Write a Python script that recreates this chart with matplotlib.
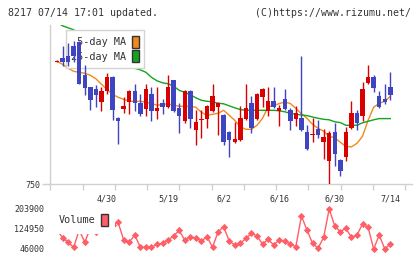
import numpy as np
import matplotlib
matplotlib.use("Agg")
import matplotlib.pyplot as plt
from matplotlib.patches import Patch

# daily candles (yen)
opens = [811, 813, 814, 819, 821, 804.5, 798.5, 797.5, 791, 796.5, 803.5, 783, 787.5, 791, 796.5,
         790.5, 787.5, 795, 786.5, 790.5, 788.5, 802, 788, 781.5, 796.5, 777, 782, 782.5, 786.5, 788.5,
         784.5, 776, 771, 772, 782.5, 790.5, 782.5, 793.5, 786.5, 791.5, 786.5, 792.5, 787, 782.5, 783,
         776, 774.5, 777.5, 771, 761.5, 776, 762, 763.5, 778, 785.5, 784, 800.5, 803.5, 794, 792.5, 798.5]
highs = [812, 819, 820.5, 821.5, 821.5, 809.5, 798.5, 799.5, 798.5, 805.5, 804, 783.5, 793.5, 797, 800,
         795, 800, 798.5, 798.5, 792.5, 804.5, 802, 790.5, 797, 797, 787, 787, 789.5, 800, 791,
         785, 776.5, 781, 789, 800, 794, 795.5, 798, 798.5, 798.5, 789.5, 797.5, 788, 789, 814,
         779.5, 783, 782, 777.5, 776.5, 780.5, 762.5, 778.5, 791.5, 787, 801, 809.5, 804.5, 796.5, 800, 806]
lows = [811, 809, 809, 811, 800, 794.5, 787, 788.5, 786.5, 795, 782, 770, 785.5, 785, 786.5,
        784, 784, 781.5, 782.5, 785, 788, 786, 775.5, 780.5, 778, 769.5, 773, 778, 786, 774.5,
        769.5, 763.5, 770.5, 771.5, 782, 775.5, 782, 788.5, 784, 788, 779, 787, 777, 779, 776.5,
        767, 771, 773, 762.5, 750, 759, 754, 761.5, 777.5, 777, 781.5, 800, 796, 788, 790, 792]
closes = [811.5, 811, 811, 814, 800, 798, 792, 794.5, 796.5, 803.5, 787, 781.5, 789, 796.5, 790.5,
          785, 797.5, 786.5, 788, 788.5, 798.5, 786.5, 784, 796.5, 782.5, 781, 782.5, 789, 794, 790.5,
          771, 772, 772.5, 783, 788, 778, 795, 797.5, 791.5, 788.5, 788, 787.5, 781.5, 785.5, 777,
          767.5, 775, 774.5, 773.5, 775.5, 765, 756.5, 776, 785.5, 780.5, 797.5, 803.5, 798, 788.5, 791, 794.5]

ma5 = [811.5, 810, 808, 806.5, 806, 805.5, 804.5, 802.75, 800, 797.5, 795, 793.5, 792.5, 791.5, 791.5,
       791.5, 791, 790.5, 789.5, 790, 790.25, 789.5, 789, 789, 789, 788.5, 786, 784.5, 785, 785.5,
       787, 784.5, 782, 778.7, 777.5, 777.5, 779.5, 783, 788.7, 789.5, 790.3, 791.2, 790.4, 787.9, 785.3,
       783, 780, 778, 776.5, 774, 773.3, 771, 769, 768.7, 770.5, 774, 782, 788.5, 790.5, 791.5, 794]
ma25 = [831, 829.25, 828.25, 827.25, 825.5, 823.5, 821.5, 819.5, 817.5, 815.5, 814, 812, 810.5, 809, 808,
        807.25, 806, 803.5, 801.75, 800.75, 800.25, 799, 797, 796, 794.75, 793.25, 792, 791.5, 791.25, 790.5,
        790.25, 789.25, 788.25, 787.35, 787, 787, 787, 787, 787, 787, 786.75, 786.25, 785.5, 785, 784.65,
        784.35, 783.65, 783, 782.5, 782.25, 781.25, 780.85, 779.5, 779.5, 779.5, 780.75, 781.5, 782.25,
        782.85, 782.85, 782.85]

volume = [121000, 90600, 72400, 52700, 121000, 72400, 128900, 113100, 136800, 121000, 140700, 151400, 81500,
          72400, 101300, 52700, 52700, 52700, 64600, 68500, 81500, 97300, 119800, 80300, 92200, 90600,
          77600, 94600, 52700, 114300, 134000, 77600, 61800, 68500, 88200, 108000, 97300, 65700, 84300,
          61800, 81500, 77600, 65700, 55100, 176300, 121000, 68500, 48800, 92200, 203900, 136800, 114300,
          127700, 92200, 101300, 144700, 131700, 46000, 101300, 46500, 65700]

date_idx = [9, 20, 30, 40, 50, 60]
date_labels = ["4/30", "5/19", "6/2", "6/16", "6/30", "7/14"]
price_ticks = [750]
vol_ticks = [46000, 124950, 203900]

RED = "#d90000"
BLUE = "#3f44c0"
ORANGE = "#f08a1c"
GREEN = "#12a41e"
VOLC = "#ff5e66"
GRID = "#d0d0d0"
TXT = "#333333"

plt.rcParams["font.family"] = ["DejaVu Sans Mono"]

W, H = 420, 259
fig = plt.figure(figsize=(W / 100, H / 100), dpi=100)


def px2i(px):
    # pixel column -> candle index
    return (px - 57) / 5.555


ax = fig.add_axes([50.3 / W, 1 - 184.3 / H, (412 - 50.3) / W, (184.3 - 25) / H])
axv = fig.add_axes([50.3 / W, 1 - 253 / H, (412 - 50.3) / W, 48 / H])

x = np.arange(len(opens))
o = np.array(opens)
c = np.array(closes)
col = np.where(c >= o, RED, BLUE)

ax.plot(x, ma5, color=ORANGE, lw=1, zorder=2)
ax.plot(x, ma25, color=GREEN, lw=1, zorder=2)
ax.vlines(x, lows, highs, colors=col, lw=1, zorder=6)
ax.bar(x, np.maximum(np.abs(c - o), 0.6), bottom=np.minimum(o, c), width=0.8,
       color=col, lw=0, zorder=7)

xlim = (px2i(50.3), px2i(412))
ax.set_xlim(*xlim)
ax.set_ylim(750, 750 + (184.3 - 25) / 2)
for s in ["top", "right"]:
    ax.spines[s].set_visible(False)
for s in ["left", "bottom"]:
    ax.spines[s].set_color(GRID)
    ax.spines[s].set_linewidth(1)

ax.set_xticks([px2i(50.3 + 32.27 * k) for k in range(12)])
ax.set_xticklabels([])
ax.tick_params(axis="x", which="major", length=4.5, width=1, color=GRID)
ax.set_xticks(date_idx, date_labels, minor=True)
ax.tick_params(axis="x", which="minor", length=0, pad=7, labelsize=6, labelcolor=TXT)
ax.set_yticks(price_ticks, [str(v) for v in price_ticks])
ax.tick_params(axis="y", length=5.8, width=1, color=GRID, pad=1.5, labelsize=6, labelcolor=TXT)

leg = ax.legend(handles=[Patch(fc=ORANGE, ec="#333333", lw=1), Patch(fc=GREEN, ec="#333333", lw=1)],
                labels=[" 5-day MA", "25-day MA"], loc="upper left",
                bbox_to_anchor=(65.7 / W, 1 - 30 / H), bbox_transform=fig.transFigure,
                borderaxespad=0, markerfirst=False, fontsize=7.3, handlelength=0.6,
                handleheight=1.45, labelspacing=0.25, handletextpad=0.6, borderpad=0.55,
                fancybox=False, framealpha=1, edgecolor="#d4d4d4")
leg.get_frame().set_linewidth(1)
for t in leg.get_texts():
    t.set_color(TXT)
leg.set_zorder(5)

# volume panel
axv.plot(x, volume, color=VOLC, lw=1, marker="D", ms=3.1, mew=0.6, mec=VOLC, zorder=2)
axv.set_xlim(*xlim)
axv.set_ylim(46000 - 4 * 3947.5, 203900 + 4 * 3947.5)
for s in axv.spines.values():
    s.set_visible(False)
axv.set_xticks([])
axv.set_yticks(vol_ticks, [str(v) for v in vol_ticks])
axv.tick_params(axis="y", length=0, pad=4.3, labelsize=6, labelcolor=TXT)

vleg = axv.legend(handles=[Patch(fc=VOLC, ec="#333333", lw=1)], labels=["Volume"],
                  loc="upper left", bbox_to_anchor=(50.8 / W, 1 - 206 / H),
                  bbox_transform=fig.transFigure, borderaxespad=0, markerfirst=False,
                  fontsize=7.3, handlelength=0.65, handleheight=1.5, handletextpad=0.6,
                  borderpad=0.75, fancybox=False, framealpha=1, edgecolor="none")
for t in vleg.get_texts():
    t.set_color(TXT)
vleg.set_zorder(5)

fig.text(8 / W, 1 - 12.5 / H, "8217 07/14 17:01 updated.", fontsize=7.1, color=TXT, va="center")
fig.text(410.7 / W, 1 - 12.5 / H, "(C)https://www.rizumu.net/", fontsize=7.1, color=TXT,
         va="center", ha="right")

fig.savefig("out.png", dpi=100)
